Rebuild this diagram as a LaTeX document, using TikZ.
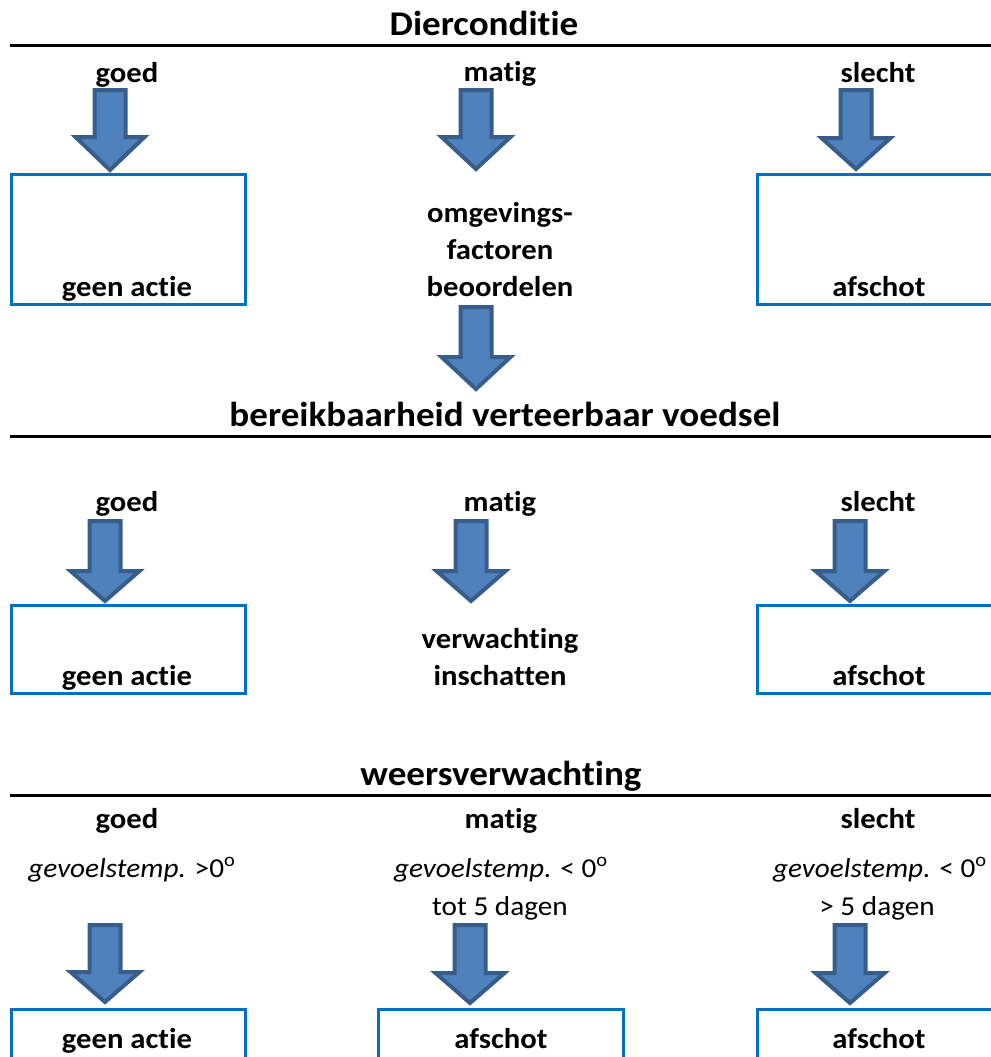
\documentclass[tikz,border=0pt]{standalone}
\usepackage{fontspec}
\setmainfont[Ligatures=NoCommon, FakeStretch=1.07]{Carlito}
\definecolor{boxblue}{HTML}{0070C0}
\definecolor{arrfill}{HTML}{4F81BD}
\definecolor{arrline}{HTML}{385D8A}
\tikzset{
  rule/.style={line width=2.25pt, draw=black},
  outbox/.style={draw=boxblue, line width=2.25pt},
  blockarr/.style={fill=arrfill, draw=arrline, line width=3pt, line join=miter},
  ttl/.style={font=\fontsize{26}{30}\selectfont\bfseries, anchor=base, inner sep=0pt},
  lbl/.style={font=\fontsize{21.5}{27}\selectfont\bfseries, anchor=base, inner sep=0pt},
  note/.style={font=\fontsize{20.5}{27}\selectfont, anchor=base, inner sep=0pt},
}
% block arrow: centre x, outer top, outer shoulder, outer tip (pixels)
\newcommand\blockarrow[4]{%
  \filldraw[blockarr] ({#1-15.5},{#2+2}) -- ({#1+15.5},{#2+2}) -- ({#1+15.5},{#3+2})
    -- ({#1+34.5},{#3+2}) -- (#1,{#4-3}) -- ({#1-34.5},{#3+2}) -- ({#1-15.5},{#3+2}) -- cycle;}
\begin{document}
\begin{tikzpicture}[x=0.75pt, y=-0.75pt]
\useasboundingbox (0,0) rectangle (990,1057);

% ---------- section 1 ----------
\node[ttl] (t1) at (484,35) {Dierconditie};
\draw[rule] (10,45) -- (995,45);
\node[lbl] (g1) at (127,82) {goed};
\node[lbl] (m1) at (500,81) {matig};
\node[lbl] (s1) at (878,82) {slecht};
\blockarrow{110}{88}{135}{173}
\blockarrow{476}{88}{135}{172}
\blockarrow{856}{88}{136}{172}
\draw[outbox] (11.5,174.5) rectangle (245.5,304.5);
\draw[outbox] (757.5,174.5) rectangle (1000,304.5);
\node[lbl] (ga1) at (127,296) {geen actie};
\node[lbl] (af1) at (879,296) {afschot};
\node[lbl] (o1) at (500,222) {omgevings-};
\node[lbl] (o2) at (500,259) {factoren};
\node[lbl] (o3) at (500,296) {beoordelen};
\blockarrow{476}{305}{355}{392}

% ---------- section 2 ----------
\node[ttl] (t2) at (505,426) {bereikbaarheid verteerbaar voedsel};
\draw[rule] (10,436) -- (995,436);
\node[lbl] (g2) at (127,511) {goed};
\node[lbl] (m2) at (500,511) {matig};
\node[lbl] (s2) at (878,511) {slecht};
\blockarrow{105}{519}{569}{604}
\blockarrow{471}{519}{569}{604}
\blockarrow{850}{519}{569}{604}
\draw[outbox] (11.5,605.5) rectangle (245.5,693.5);
\draw[outbox] (757.5,605.5) rectangle (1000,693.5);
\node[lbl] (ga2) at (127,685) {geen actie};
\node[lbl] (af2) at (879,685) {afschot};
\node[lbl] (v1) at (500,648) {verwachting};
\node[lbl] (v2) at (500,685) {inschatten};

% ---------- section 3 ----------
\node[ttl] (t3) at (501,785) {weersverwachting};
\draw[rule] (10,795) -- (995,795);
\node[lbl] (g3) at (127,828) {goed};
\node[lbl] (m3) at (501,828) {matig};
\node[lbl] (s3) at (878,828) {slecht};
\node[note] (n1) at (132,877) {\textit{gevoelstemp.} >0\textsuperscript{o}};
\node[note] (n2) at (501,877) {\textit{gevoelstemp.} < 0\textsuperscript{o}};
\node[note] (n3) at (880,877) {\textit{gevoelstemp.} < 0\textsuperscript{o}};
\node[note] (d2) at (500,915) {tot 5 dagen};
\node[note] (d3) at (877,915) {> 5 dagen};
\blockarrow{105}{923}{970}{1005}
\blockarrow{470}{923}{971}{1006}
\blockarrow{850}{923}{971}{1006}
\draw[outbox] (11.5,1009.5) rectangle (245.5,1075);
\draw[outbox] (378.5,1009.5) rectangle (623.5,1075);
\draw[outbox] (757.5,1009.5) rectangle (1000,1075);
\node[lbl] (ga3) at (127,1048) {geen actie};
\node[lbl] (af3) at (501,1048) {afschot};
\node[lbl] (af4) at (879,1048) {afschot};
\end{tikzpicture}
\end{document}
